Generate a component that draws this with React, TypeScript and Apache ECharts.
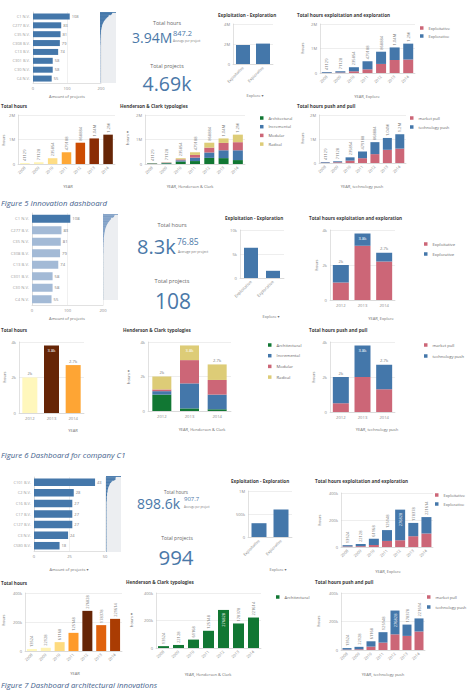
import React, { useEffect, useRef } from "react";
import * as echarts from "echarts";

const FONT = '"Open Sans", "DejaVu Sans", sans-serif';
const BLUE = "#4477aa";
const RED = "#cc6677";
const GREEN = "#117733";
const YELLOW = "#ddcc77";
const PALE_BLUE = "#a3bad6";
const HOURS_RAMP = ["#fff7bc", "#fee391", "#fec44f", "#fe9929", "#ec7014", "#cc4c02", "#8c2d04", "#662506"];

// ---------------- data ----------------
const years7 = ["2008", "2009", "2010", "2011", "2012", "2013", "2014"];
const years3 = ["2012", "2013", "2014"];
const exploreCats = ["Exploitative", "Explorative"];
const exploreNames = ["Exploitative", "Explorative"];
const hcNames = ["Architectural", "Incremental", "Modular", "Radical"];
const ppNames = ["market pull", "technology push"];

const companiesAll = ["C1 N.V.", "C277 B.V.", "C35 N.V.", "C308 B.V.", "C13 B.V.", "C301 B.V.", "C30 N.V.", "C4 N.V."];
const projectsAll = [108, 83, 81, 79, 74, 58, 58, 55];
// projects per company for all companies (scroll overview, sorted)
const overviewAll = [
  108, 83, 81, 79, 74, 58, 58, 55, 50, 46, 42, 38, 35, 32, 29, 26, 24, 22, 20, 18,
  16, 15, 14, 13, 12, 11, 10, 9, 8, 8, 7, 7, 6, 6, 5, 5, 5, 4, 4, 4,
  3, 3, 3, 3, 3, 2, 2, 2, 2, 2, 2, 2, 2, 2, 2, 1, 1, 1, 1, 1,
  1, 1, 1, 1, 1, 1, 1, 1, 1, 1, 1, 1, 1, 1, 1, 1, 1, 1, 1, 1,
  1, 1, 1, 1, 1, 1, 1, 1, 1, 1, 1, 1, 1, 1, 1, 1, 1, 1, 1, 1,
  1, 1, 1, 1, 1, 1, 1, 1, 1, 1, 1, 1, 1, 1, 1, 1, 1, 1, 1, 1,
];

const companiesArch = ["C101 B.V.", "C2 N.V.", "C16 B.V.", "C17 B.V.", "C127 B.V.", "C3 N.V.", "C580 B.V."];
const projectsArch = [43, 28, 27, 27, 27, 24, 18];
const overviewArch = [
  43, 28, 27, 27, 27, 24, 18, 16, 14, 12, 11, 10, 9, 8, 7, 6, 6, 5, 5, 4,
  4, 4, 3, 3, 3, 3, 2, 2, 2, 2, 2, 2, 2, 1, 1, 1, 1, 1, 1, 1,
  1, 1, 1, 1, 1, 1, 1, 1, 1, 1, 1, 1, 1, 1, 1, 1, 1, 1, 1, 1,
  1, 1, 1, 1, 1, 1, 1, 1, 1, 1, 1, 1, 1, 1, 1, 1, 1, 1, 1, 1,
  1, 1, 1, 1, 1, 1, 1, 1, 1, 1, 1, 1, 1, 1, 1, 1, 1, 1, 1, 1,
];

// dashboard 1 (all innovations)
const d1ExploreTotals = [1900000, 2040000];
const d1Hours = [41129, 71128, 235854, 479188, 868884, 1043470, 1198210];
const d1Exploitative = [10000, 20000, 70000, 150000, 370000, 530000, 550000];
const d1Explorative = [31129, 51128, 165854, 329188, 498884, 513470, 648210];
const d1Architectural = [20000, 30000, 100000, 120000, 250000, 240000, 160000];
const d1Incremental = [10000, 20000, 50000, 140000, 220000, 320000, 400000];
const d1Modular = [6000, 11000, 40000, 110000, 200000, 300000, 330000];
const d1Radical = [5129, 10128, 45854, 109188, 198884, 183470, 308210];
const d1MarketPull = [15000, 30000, 100000, 200000, 370000, 550000, 600000];
const d1TechPush = [26129, 41128, 135854, 279188, 498884, 493470, 598210];

// dashboard 2 (company C1)
const d2ExploreTotals = [6300, 1500];
const d2Hours = [2000, 3800, 2700];
const d2Exploitative = [1000, 3100, 2200];
const d2Explorative = [1000, 700, 500];
const d2Architectural = [950, 150, 100];
const d2Incremental = [200, 1450, 850];
const d2Modular = [100, 1350, 850];
const d2Radical = [750, 850, 900];
const d2MarketPull = [500, 2000, 1300];
const d2TechPush = [1500, 1800, 1400];

// dashboard 3 (architectural innovations)
const d3ExploreTotals = [300000, 598000];
const d3Hours = [13524, 22128, 61168, 125148, 276828, 178378, 221614];
const d3Exploitative = [4000, 6000, 15000, 45000, 50000, 80000, 100000];
const d3Explorative = [9524, 16128, 46168, 80148, 226828, 98378, 121614];
const d3MarketPull = [3000, 5000, 24000, 52000, 110000, 99000, 130000];
const d3TechPush = [10524, 17128, 37168, 73148, 166828, 79378, 91614];

// ---------------- formatters ----------------
const kFmt = (v: number) =>
  v === 0 ? "0" : v >= 1e6 ? `${+(v / 1e6).toFixed(2)}M` : v >= 1e3 ? `${+(v / 1e3).toFixed(1)}k` : String(v);
const d1Fmt = (v: number) => (v >= 1e6 ? `${+(v / 1e6).toFixed(2)}M` : String(Math.round(v)));
const d3Fmt = (v: number) => String(Math.round(v));

type Rect = { l: number; t: number; w: number; h: number };

function buildOption() {
  const grid: any[] = [];
  const xAxis: any[] = [];
  const yAxis: any[] = [];
  const series: any[] = [];
  const legend: any[] = [];
  const visualMap: any[] = [];
  const graphic: any[] = [];
  const AXC = "#cccccc";

  const axisLabel = (size: number) => ({ fontSize: size, color: "#8a8a8a", fontFamily: FONT });

  function addGrid(r: Rect, extra: any = {}) {
    grid.push({ left: r.l, top: r.t, width: r.w, height: r.h, ...extra });
    return grid.length - 1;
  }

  function hbar(r: Rect, cats: string[], values: number[], max: number, interval: number, barWidth: number, colors: string[], size = 4) {
    const g = addGrid(r);
    xAxis.push({
      gridIndex: g, type: "value", min: 0, max, interval,
      axisLine: { show: true, lineStyle: { color: AXC, width: 0.6 } },
      axisTick: { show: false },
      splitLine: { lineStyle: { color: "#e6e6e6", width: 0.6 } },
      axisLabel: { ...axisLabel(size), margin: 3 },
    });
    yAxis.push({
      gridIndex: g, type: "category", inverse: true, data: cats,
      axisTick: { show: false },
      axisLine: { lineStyle: { color: AXC, width: 0.6 } },
      axisLabel: { ...axisLabel(size), margin: 3, color: "#a0a0a0", interval: 0 },
    });
    series.push({
      type: "bar", name: "Amount of projects", xAxisIndex: g, yAxisIndex: g, barWidth,
      data: values.map((v, i) => ({ value: v, itemStyle: { color: colors[Math.min(i, colors.length - 1)] } })),
      label: { show: true, position: "right", distance: 2, fontSize: size, color: "#7a7a7a", fontFamily: FONT },
    });
  }

  // scroll overview: every company as a hairline bar
  function mini(r: Rect, values: number[], color: string) {
    const g = addGrid(r, { show: true, backgroundColor: "#eceef1", borderWidth: 0 });
    xAxis.push({ gridIndex: g, type: "value", min: 0, max: Math.max(...values), show: false });
    yAxis.push({ gridIndex: g, type: "category", inverse: true, data: values.map((_, i) => "r" + i), show: false });
    series.push({
      type: "bar", xAxisIndex: g, yAxisIndex: g, data: values, silent: true,
      barCategoryGap: "0%", itemStyle: { color },
    });
  }

  function vbar(o: {
    r: Rect; cats: string[]; max: number; interval: number;
    sers: { name: string; data: number[]; color: string }[];
    barWidth: number; rotateX?: boolean; labels?: "vert" | "horiz" | "none";
    fmt?: (v: number) => string; insideRatio?: number; ramp?: boolean; size?: number;
  }) {
    const size = o.size ?? 4;
    const g = addGrid(o.r);
    xAxis.push({
      gridIndex: g, type: "category", data: o.cats,
      axisTick: { show: false },
      axisLine: { lineStyle: { color: AXC, width: 0.6 } },
      axisLabel: { ...axisLabel(size), interval: 0, rotate: o.rotateX ? 45 : 0, margin: 3 },
    });
    yAxis.push({
      gridIndex: g, type: "value", min: 0, max: o.max, interval: o.interval,
      axisLine: { show: true, lineStyle: { color: AXC, width: 0.6 } },
      axisTick: { show: false },
      splitLine: { lineStyle: { color: "#e2e2e2", width: 0.6 } },
      axisLabel: { ...axisLabel(size), margin: 3, formatter: kFmt },
    });
    const totals = o.cats.map((_, i) => o.sers.reduce((s, se) => s + se.data[i], 0));
    const mode = o.labels ?? "none";
    const ratio = o.insideRatio ?? 0.8;
    const fmt = o.fmt ?? kFmt;
    o.sers.forEach((se, k) => {
      const top = k === o.sers.length - 1 && mode !== "none";
      const data = se.data.map((v, i) => {
        if (!top) return v;
        const inside = totals[i] / o.max > ratio;
        let label: any;
        if (mode === "vert")
          label = inside
            ? { position: "insideTop", rotate: 90, align: "right", verticalAlign: "middle", distance: 3, color: "#ffffff" }
            : { position: "top", rotate: 90, align: "left", verticalAlign: "middle", distance: 2, color: "#7a7a7a" };
        else
          label = inside
            ? { position: "insideTop", distance: 3, color: "#ffffff" }
            : { position: "top", distance: 2, color: "#7a7a7a" };
        return { value: v, label };
      });
      const s: any = {
        type: "bar", name: se.name, xAxisIndex: g, yAxisIndex: g, barWidth: o.barWidth, data,
        itemStyle: { color: se.color },
        label: { show: top, fontSize: size, fontFamily: FONT, formatter: (p: any) => fmt(totals[p.dataIndex]) },
      };
      if (o.sers.length > 1) s.stack = "st" + g;
      series.push(s);
      if (o.ramp)
        visualMap.push({
          show: false, type: "continuous", seriesIndex: series.length - 1,
          min: Math.min(...se.data), max: Math.max(...se.data), inRange: { color: HOURS_RAMP },
        });
    });
  }

  function leg(left: number, top: number, names: string[], step: number, size = 4) {
    legend.push({
      left, top, orient: "vertical", data: names, icon: "rect", itemWidth: 3.5, itemHeight: 3.5,
      itemGap: step - 5, padding: 0, selectedMode: false,
      textStyle: { fontSize: size, color: "#666666", fontFamily: FONT, lineHeight: 5 },
    });
  }

  function T(x: number, y: number, s: string, st: any = {}) {
    const { align = "left", rotation = 0, ...rest } = st;
    graphic.push({
      type: "text", x, y, rotation, silent: true,
      style: {
        text: s, fontFamily: FONT, fontSize: 4, fill: "#6e6e6e",
        align, verticalAlign: "middle", textAlign: align, textVerticalAlign: "middle", ...rest,
      },
    });
  }
  const title = (x: number, y: number, s: string) => T(x, y, s, { fontSize: 4.6, fontWeight: "bold", fill: "#3c3c3c" });
  const yName = (x: number, y: number, s: string) => T(x, y, s, { align: "center", rotation: Math.PI / 2 });
  const xName = (x: number, y: number, s: string) => T(x, y, s, { align: "center" });
  const caption = (y: number, s: string) => T(1, y, s, { fontSize: 7.8, fontStyle: "italic", fill: "#44628c" });
  const KPI_BLUE = "#4a78a8";

  // ======== Dashboard 1 ========
  hbar({ l: 33, t: 12, w: 68, h: 71 }, companiesAll, projectsAll, 200, 100, 6, [BLUE]);
  mini({ l: 100, t: 12, w: 16, h: 71 }, overviewAll, BLUE);
  vbar({ r: { l: 233, t: 24, w: 40, h: 40 }, cats: exploreCats, max: 4e6, interval: 2e6, barWidth: 14, rotateX: true,
    sers: [{ name: "Total hours", data: d1ExploreTotals, color: BLUE }] });
  vbar({ r: { l: 320, t: 24, w: 95, h: 49 }, cats: years7, max: 2e6, interval: 1e6, barWidth: 10, rotateX: true,
    labels: "vert", fmt: d1Fmt, insideRatio: 0.9,
    sers: [{ name: "Exploitative", data: d1Exploitative, color: RED }, { name: "Explorative", data: d1Explorative, color: BLUE }] });
  vbar({ r: { l: 18, t: 115, w: 97, h: 49 }, cats: years7, max: 2e6, interval: 1e6, barWidth: 9.5, rotateX: true,
    labels: "vert", fmt: d1Fmt, insideRatio: 0.9, ramp: true,
    sers: [{ name: "hours", data: d1Hours, color: BLUE }] });
  vbar({ r: { l: 145, t: 115, w: 100, h: 49 }, cats: years7, max: 2e6, interval: 1e6, barWidth: 10, rotateX: true,
    labels: "vert", fmt: d1Fmt, insideRatio: 0.9,
    sers: [
      { name: "Architectural", data: d1Architectural, color: GREEN },
      { name: "Incremental", data: d1Incremental, color: BLUE },
      { name: "Modular", data: d1Modular, color: RED },
      { name: "Radical", data: d1Radical, color: YELLOW },
    ] });
  vbar({ r: { l: 319, t: 115, w: 87, h: 48 }, cats: years7, max: 2e6, interval: 1e6, barWidth: 9, rotateX: true,
    labels: "vert", fmt: d1Fmt, insideRatio: 0.9,
    sers: [{ name: "market pull", data: d1MarketPull, color: RED }, { name: "technology push", data: d1TechPush, color: BLUE }] });
  leg(420, 25.5, exploreNames, 8);
  leg(260, 115.5, hcNames, 8.7);
  leg(410, 115.5, ppNames, 9);

  title(218, 15, "Exploitation - Exploration");
  title(297, 15, "Total hours exploitation and exploration");
  title(1, 106, "Total hours");
  title(120, 106, "Henderson & Clark typologies");
  title(297, 106, "Total hours push and pull");
  T(167, 23, "Total hours", { align: "center", fontSize: 5.3, fill: "#666666" });
  T(132, 37, "3.94M", { fontSize: 14, fill: KPI_BLUE });
  T(173, 33, "847.2", { fontSize: 7.5, fill: KPI_BLUE });
  T(173, 41, "Average per project", { fontSize: 3, fill: "#777777" });
  T(167, 66, "Total projects", { align: "center", fontSize: 5.3, fill: "#666666" });
  T(167, 83, "4.69k", { align: "center", fontSize: 19.5, fill: KPI_BLUE });
  xName(67, 96, "Amount of projects");
  xName(255, 95, "Explore \u25BE");
  xName(367, 96, "YEAR, Explore");
  xName(68, 186, "YEAR");
  xName(190, 186, "YEAR, Henderson & Clark");
  xName(362, 186, "YEAR, technology push");
  yName(302, 48, "hours");
  yName(3, 140, "hours");
  yName(127, 138, "hours \u25BE");
  yName(302, 138, "hours");
  caption(203, "Figure 5 Innovation dashboard");

  // ======== Dashboard 2 ========
  hbar({ l: 32, t: 213, w: 71, h: 92 }, companiesAll, projectsAll, 200, 100, 8, [BLUE, PALE_BLUE], 4.2);
  mini({ l: 103, t: 214, w: 15, h: 86 }, overviewAll, "#7f9fc6");
  vbar({ r: { l: 240, t: 230, w: 44, h: 48 }, cats: exploreCats, max: 10000, interval: 5000, barWidth: 14, rotateX: true, size: 4.2,
    sers: [{ name: "Total hours", data: d2ExploreTotals, color: BLUE }] });
  vbar({ r: { l: 330, t: 230, w: 65, h: 70 }, cats: years3, max: 4000, interval: 2000, barWidth: 16, size: 4.2,
    labels: "horiz", fmt: kFmt, insideRatio: 0.8,
    sers: [{ name: "Exploitative", data: d2Exploitative, color: RED }, { name: "Explorative", data: d2Explorative, color: BLUE }] });
  vbar({ r: { l: 19, t: 342, w: 65, h: 71 }, cats: years3, max: 4000, interval: 2000, barWidth: 15, size: 4.2,
    labels: "horiz", fmt: kFmt, insideRatio: 0.8, ramp: true,
    sers: [{ name: "hours", data: d2Hours, color: BLUE }] });
  vbar({ r: { l: 148, t: 342, w: 83, h: 69 }, cats: years3, max: 4000, interval: 2000, barWidth: 19, size: 4.2,
    labels: "horiz", fmt: kFmt, insideRatio: 0.8,
    sers: [
      { name: "Architectural", data: d2Architectural, color: GREEN },
      { name: "Incremental", data: d2Incremental, color: BLUE },
      { name: "Modular", data: d2Modular, color: RED },
      { name: "Radical", data: d2Radical, color: YELLOW },
    ] });
  vbar({ r: { l: 330, t: 342, w: 65, h: 70 }, cats: years3, max: 4000, interval: 2000, barWidth: 16, size: 4.2,
    labels: "horiz", fmt: kFmt, insideRatio: 0.8,
    sers: [{ name: "market pull", data: d2MarketPull, color: RED }, { name: "technology push", data: d2TechPush, color: BLUE }] });
  leg(424, 241.5, exploreNames, 10, 4.2);
  leg(268, 342.5, hcNames, 10.7, 4.2);
  leg(424, 342.5, ppNames, 11, 4.1);

  title(225, 218, "Exploitation - Exploration");
  title(309, 218, "Total hours exploitation and exploration");
  title(1, 330, "Total hours");
  title(123, 330, "Henderson & Clark typologies");
  title(309, 330, "Total hours push and pull");
  T(172, 225, "Total hours", { align: "center", fontSize: 5.5, fill: "#666666" });
  T(137, 246, "8.3k", { fontSize: 20, fill: KPI_BLUE });
  T(177, 241, "76.85", { fontSize: 8.5, fill: KPI_BLUE });
  T(178, 251, "Average per project", { fontSize: 3.3, fill: "#777777" });
  T(172, 281, "Total projects", { align: "center", fontSize: 5.5, fill: "#666666" });
  T(173, 301, "108", { align: "center", fontSize: 21, fill: KPI_BLUE });
  xName(67, 318, "Amount of projects");
  xName(271, 316, "Explore \u25BE");
  xName(381, 318, "YEAR, Explore");
  xName(73, 430, "YEAR");
  xName(202, 429, "YEAR, Henderson & Clark");
  xName(377, 429, "YEAR, technology push");
  yName(316, 265, "hours");
  yName(4, 377, "hours");
  yName(128, 377, "hours \u25BE");
  yName(313, 377, "hours");
  caption(455, "Figure 6 Dashboard for company C1");

  // ======== Dashboard 3 ========
  hbar({ l: 34, t: 477, w: 71, h: 74 }, companiesArch, projectsArch, 50, 25, 7.5, [BLUE]);
  mini({ l: 106, t: 476, w: 15, h: 76 }, overviewArch, BLUE);
  vbar({ r: { l: 248, t: 491, w: 44, h: 46 }, cats: exploreCats, max: 1e6, interval: 5e5, barWidth: 15, rotateX: true,
    sers: [{ name: "Total hours", data: d3ExploreTotals, color: BLUE }] });
  vbar({ r: { l: 341, t: 493, w: 92, h: 54 }, cats: years7, max: 4e5, interval: 2e5, barWidth: 10, rotateX: true,
    labels: "vert", fmt: d3Fmt, insideRatio: 0.6,
    sers: [{ name: "Exploitative", data: d3Exploitative, color: RED }, { name: "Explorative", data: d3Explorative, color: BLUE }] });
  vbar({ r: { l: 25, t: 593, w: 97, h: 58 }, cats: years7, max: 4e5, interval: 2e5, barWidth: 10, rotateX: true,
    labels: "vert", fmt: d3Fmt, insideRatio: 0.75, ramp: true,
    sers: [{ name: "hours", data: d3Hours, color: BLUE }] });
  vbar({ r: { l: 156, t: 593, w: 105, h: 55 }, cats: years7, max: 4e5, interval: 2e5, barWidth: 11, rotateX: true,
    labels: "vert", fmt: d3Fmt, insideRatio: 0.6,
    sers: [{ name: "Architectural", data: d3Hours, color: GREEN }] });
  vbar({ r: { l: 341, t: 593, w: 84, h: 57 }, cats: years7, max: 4e5, interval: 2e5, barWidth: 9, rotateX: true,
    labels: "vert", fmt: d3Fmt, insideRatio: 0.6,
    sers: [{ name: "market pull", data: d3MarketPull, color: RED }, { name: "technology push", data: d3TechPush, color: BLUE }] });
  leg(435, 492.5, exploreNames, 9, 4);
  leg(276, 594.5, ["Architectural"], 9, 4.2);
  leg(427, 594.5, ppNames, 10, 4);

  title(231, 481, "Exploitation - Exploration");
  title(315, 481, "Total hours exploitation and exploration");
  title(1, 583, "Total hours");
  title(126, 582, "Henderson & Clark typologies");
  title(315, 582, "Total hours push and pull");
  T(176, 492, "Total hours", { align: "center", fontSize: 4.5, fill: "#666666" });
  T(137, 503, "898.6k", { fontSize: 14, fill: KPI_BLUE });
  T(184, 499, "907.7", { fontSize: 6, fill: KPI_BLUE });
  T(184, 507, "Average per project", { fontSize: 2.8, fill: "#777777" });
  T(177, 538, "Total projects", { align: "center", fontSize: 5, fill: "#666666" });
  T(176, 557, "994", { align: "center", fontSize: 20.5, fill: KPI_BLUE });
  xName(69, 569, "Amount of projects \u25BE");
  xName(278, 569, "Explore \u25BE");
  xName(388, 571, "YEAR, Explore");
  xName(75, 673, "YEAR");
  xName(208, 674, "YEAR, Henderson & Clark");
  xName(383, 674, "YEAR, technology push");
  yName(319, 520, "hours");
  yName(3, 620, "hours");
  yName(131, 620, "hours \u25BE");
  yName(318, 621, "hours");
  caption(685, "Figure 7 Dashboard architectural innovations");

  return {
    animation: false,
    backgroundColor: "#ffffff",
    textStyle: { fontFamily: FONT },
    grid, xAxis, yAxis, series, legend, visualMap, graphic,
  };
}

export default function App() {
  const ref = useRef<HTMLDivElement>(null);
  useEffect(() => {
    if (!ref.current) return;
    const chart = echarts.init(ref.current, undefined, { renderer: "svg" });
    chart.setOption(buildOption() as any);
    return () => chart.dispose();
  }, []);
  return (
    <div
      ref={ref}
      style={{ position: "absolute", left: 0, top: 0, width: 468, height: 690, background: "#ffffff" }}
    />
  );
}
